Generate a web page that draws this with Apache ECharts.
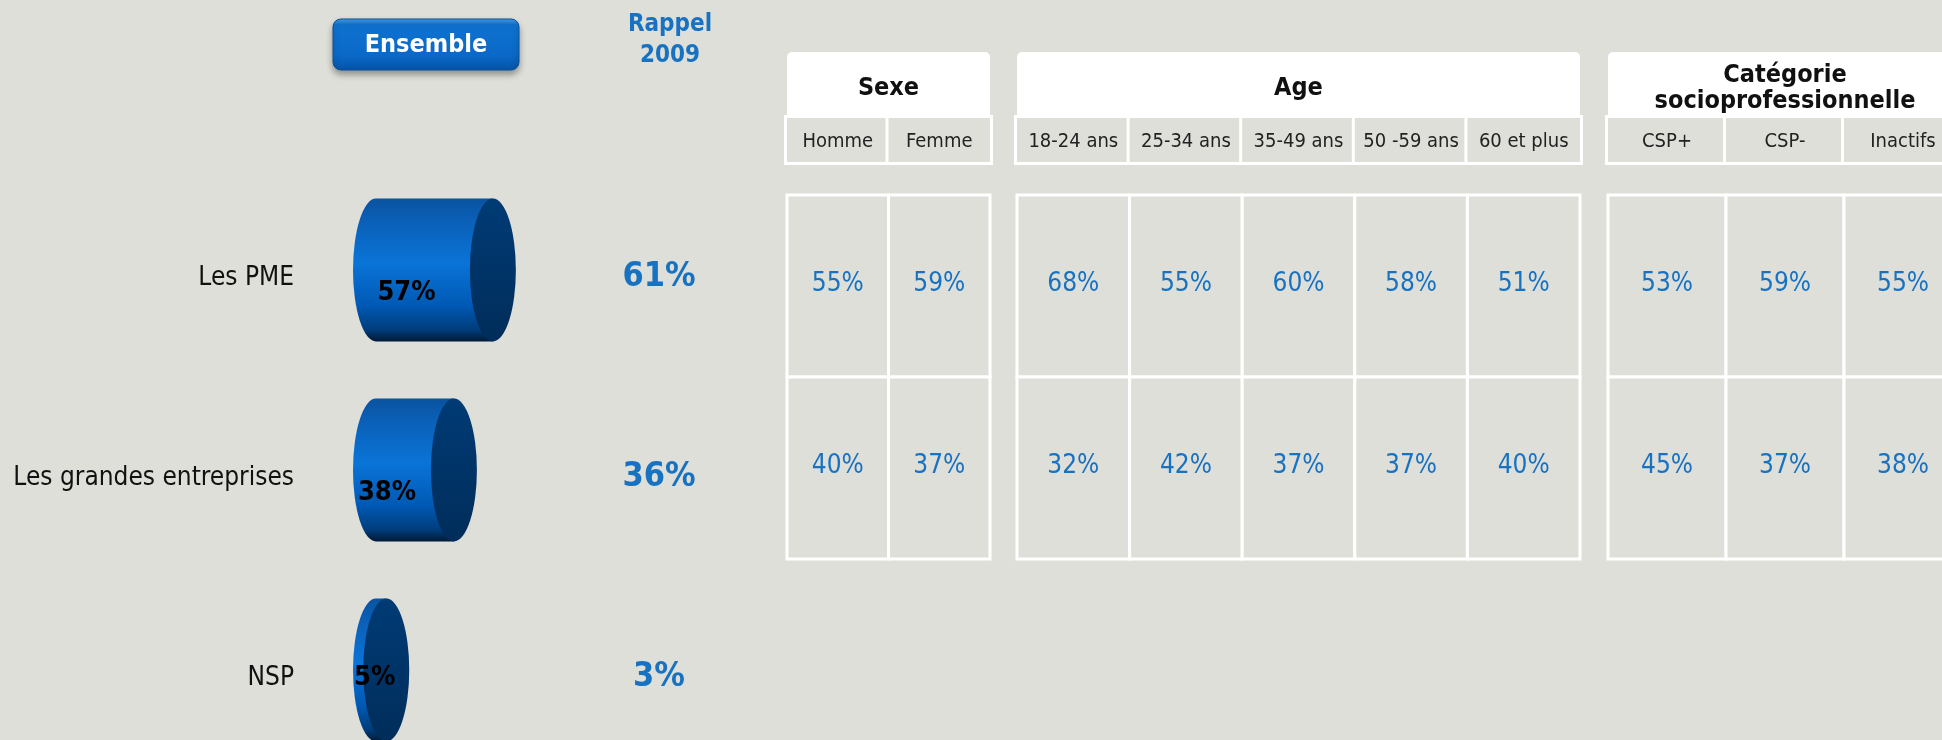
<!DOCTYPE html>
<html>
<head>
<meta charset="utf-8">
<script src="https://cdn.jsdelivr.net/npm/echarts@6/dist/echarts.min.js"></script>
<style>
  html, body { margin: 0; padding: 0; background: #dfdfd9; }
  #main { width: 1942px; height: 740px; }
</style>
</head>
<body>
<div id="main"></div>
<script>
// données
const rows = ["Les PME", "Les grandes entreprises", "NSP"];
const ensemble = [57, 38, 5];
const rappel2009 = [61, 36, 3];
const rappelTitle = ["Rappel\n2009"];

const sexeCols = ["Homme", "Femme"];
const sexeValues = [[55, 59], [40, 37]];
const ageCols = ["18-24 ans", "25-34 ans", "35-49 ans", "50 -59 ans", "60 et plus"];
const ageValues = [[68, 55, 60, 58, 51], [32, 42, 37, 37, 40]];
const cspCols = ["CSP+", "CSP-", "Inactifs"];
const cspValues = [[53, 59, 55], [45, 37, 38]];

const BG = "#dfdfd9";
const BLUE = "#1772c2";
const FONT = '"DejaVu Sans Condensed", "DejaVu Sans", sans-serif';

let myChart = echarts.init(document.getElementById("main"));

// style commun des titres d'en-tête
function head(w, h, radius) {
  return {
    width: w,
    height: h,
    lineHeight: h,
    align: "center",
    backgroundColor: "#fff",
    borderRadius: radius,
    color: "#111",
    fontSize: 25,
    fontWeight: "bold",
    fontFamily: FONT,
  };
}

// colonnes du tableau : axe catégorie en haut, en-tête = nom de l'axe
function tableAxis(idx, title, cols, colW) {
  const w = colW * cols.length;
  const lines = title.split("\n");
  let name, rich;
  if (lines.length === 1) {
    name = "{s| }\n{t|" + title + "}";
    rich = { s: head(w, 6, [5, 5, 0, 0]), t: head(w, 60, 0) };
  } else {
    name = "{s| }\n{a|" + lines[0] + "}\n{b|" + lines[1] + "}\n{e| }";
    rich = {
      s: head(w, 10, [5, 5, 0, 0]),
      a: head(w, 26, 0),
      b: head(w, 26, 0),
      e: head(w, 4, 0),
    };
  }
  return {
    type: "category",
    gridIndex: idx,
    position: "top",
    data: cols,
    axisLine: { show: false },
    axisTick: { show: false },
    axisLabel: {
      interval: 0,
      margin: 33,
      width: colW,
      height: 40,
      lineHeight: 40,
      padding: [4, 0, 0, 0],
      align: "center",
      backgroundColor: BG,
      borderColor: "#fff",
      borderWidth: 3,
      color: "#222",
      fontSize: 20,
      fontFamily: FONT,
    },
    name: name,
    nameLocation: "middle",
    nameGap: 110,
    nameMoveOverlap: false,
    nameTextStyle: {
      align: "center",
      verticalAlign: "middle",
      rich: rich,
    },
  };
}

function tableYAxis(idx) {
  return {
    type: "category",
    gridIndex: idx,
    inverse: true,
    data: rows.slice(0, 2),
    show: false,
  };
}

function tableSeries(idx, values) {
  const data = [];
  values.forEach((row, r) => row.forEach((v, c) => data.push([c, r, v])));
  return {
    type: "custom",
    xAxisIndex: idx,
    yAxisIndex: idx,
    encode: { x: 0, y: 1 },
    data: data,
    renderItem: (params, api) => {
      const c = api.coord([api.value(0), api.value(1)]);
      const s = api.size([1, 1]);
      return {
        type: "rect",
        shape: { x: c[0] - s[0] / 2, y: c[1] - s[1] / 2, width: s[0], height: s[1] },
        style: { fill: BG, stroke: "#fff", lineWidth: 3 },
        textContent: {
          style: { text: api.value(2) + "%", fill: BLUE, fontSize: 26, fontFamily: FONT },
        },
        textConfig: { position: "inside", offset: [0, -2] },
      };
    },
  };
}

let option = {
  backgroundColor: BG,
  animation: false,
  grid: [
    { left: 376, top: 170, width: 205, height: 600, outerBoundsMode: "none" },
    { left: 620, top: 170, width: 78, height: 600, outerBoundsMode: "none" },
    { left: 787, top: 195, width: 203, height: 364, outerBoundsMode: "none" },
    { left: 1017, top: 195, width: 563, height: 364, outerBoundsMode: "none" },
    { left: 1608, top: 195, width: 354, height: 364, outerBoundsMode: "none" },
  ],
  xAxis: [
    { type: "value", gridIndex: 0, min: 0, max: 100, show: false },
    {
      type: "category",
      gridIndex: 1,
      position: "top",
      data: rappelTitle,
      axisLine: { show: false },
      axisTick: { show: false },
      axisLabel: {
        margin: 99,
        lineHeight: 31,
        padding: [0, 0, 0, 22],
        color: BLUE,
        fontSize: 24,
        fontWeight: "bold",
        fontFamily: FONT,
      },
    },
    tableAxis(2, "Sexe", sexeCols, 101.5),
    tableAxis(3, "Age", ageCols, 112.6),
    tableAxis(4, "Catégorie\nsocioprofessionnelle", cspCols, 118),
  ],
  yAxis: [
    {
      type: "category",
      gridIndex: 0,
      inverse: true,
      data: rows,
      axisLine: { show: false },
      axisTick: { show: false },
      axisLabel: {
        margin: 82,
        formatter: (v) => "{s| }\n{l|" + v + "}",
        rich: {
          s: { height: 16, lineHeight: 16, fontSize: 1 },
          l: { color: "#111", fontSize: 26, fontFamily: FONT },
        },
      },
    },
    { type: "category", gridIndex: 1, inverse: true, data: rows, show: false },
    tableYAxis(2),
    tableYAxis(3),
    tableYAxis(4),
  ],
  graphic: [
    {
      type: "rect",
      shape: { x: 333, y: 19, width: 186, height: 51, r: 8 },
      style: {
        fill: new echarts.graphic.LinearGradient(0, 0, 0, 1, [
          { offset: 0, color: "#4a9fe8" },
          { offset: 0.12, color: "#0f72d0" },
          { offset: 0.7, color: "#0a69c8" },
          { offset: 1, color: "#0553a6" },
        ]),
        stroke: "#0a4f96",
        lineWidth: 1,
        shadowBlur: 6,
        shadowOffsetY: 4,
        shadowColor: "rgba(0,0,0,0.35)",
      },
    },
    {
      type: "text",
      x: 426,
      y: 45,
      style: {
        text: "Ensemble",
        fill: "#fff",
        fontSize: 25,
        fontWeight: "bold",
        fontFamily: FONT,
        textAlign: "center",
        textVerticalAlign: "middle",
      },
    },
  ],
  series: [
    {
      // cylindres
      type: "custom",
      xAxisIndex: 0,
      yAxisIndex: 0,
      encode: { x: 0, y: 1 },
      data: ensemble.map((v, i) => [v, i]),
      renderItem: (params, api) => {
        const v = api.value(0);
        const cat = api.value(1);
        const p0 = api.coord([0, cat]);
        const p1 = api.coord([v, cat]);
        const h = api.size([0, 1])[1] * 0.715;
        const rx = 23;
        const ry = h / 2;
        const x0 = p0[0];
        const x1 = p1[0];
        const cy = p0[1];
        const len = x1 - x0;
        const body =
          "M" + x0 + " " + (cy - ry) + "L" + x1 + " " + (cy - ry) +
          "L" + x1 + " " + (cy + ry) + "L" + x0 + " " + (cy + ry) +
          "A" + rx + " " + ry + " 0 0 1 " + x0 + " " + (cy - ry) + "Z";
        const cap =
          "M" + x1 + " " + (cy - ry) +
          "A" + rx + " " + ry + " 0 1 1 " + x1 + " " + (cy + ry) +
          "A" + rx + " " + ry + " 0 1 1 " + x1 + " " + (cy - ry) + "Z";
        return {
          type: "group",
          children: [
            {
              type: "path",
              shape: { pathData: body },
              style: {
                fill: new echarts.graphic.LinearGradient(0, 0, 0, 1, [
                  { offset: 0, color: "#0a53a0" },
                  { offset: 0.15, color: "#0a5fb6" },
                  { offset: 0.45, color: "#0a74d8" },
                  { offset: 0.75, color: "#0059b4" },
                  { offset: 0.92, color: "#003c7a" },
                  { offset: 1, color: "#021a36" },
                ]),
              },
            },
            {
              type: "path",
              shape: { pathData: cap },
              style: {
                fill: new echarts.graphic.LinearGradient(0, 0, 0, 1, [
                  { offset: 0, color: "#003b75" },
                  { offset: 1, color: "#002d5a" },
                ]),
              },
            },
            {
              type: "text",
              x: Math.max((x0 + x1) / 2 - 57, x0 - rx + 1),
              y: cy + (len > 40 ? 23 : 8),
              style: {
                text: v + "%",
                fill: "#000",
                fontSize: 27,
                fontWeight: "bold",
                fontFamily: FONT,
                textAlign: "left",
                textVerticalAlign: "middle",
              },
            },
          ],
        };
      },
    },
    {
      // rappel 2009
      type: "scatter",
      xAxisIndex: 1,
      yAxisIndex: 1,
      symbolSize: 1,
      itemStyle: { color: "transparent", opacity: 1 },
      data: rappel2009.map((v, i) => [0, i, v]),
      label: {
        show: true,
        position: "inside",
        offset: [0, 7],
        formatter: (p) => p.value[2] + "%",
        color: BLUE,
        fontSize: 34,
        fontWeight: "bold",
        fontFamily: FONT,
      },
    },
    tableSeries(2, sexeValues),
    tableSeries(3, ageValues),
    tableSeries(4, cspValues),
  ],
};
myChart.setOption(option);
</script>
</body>
</html>
